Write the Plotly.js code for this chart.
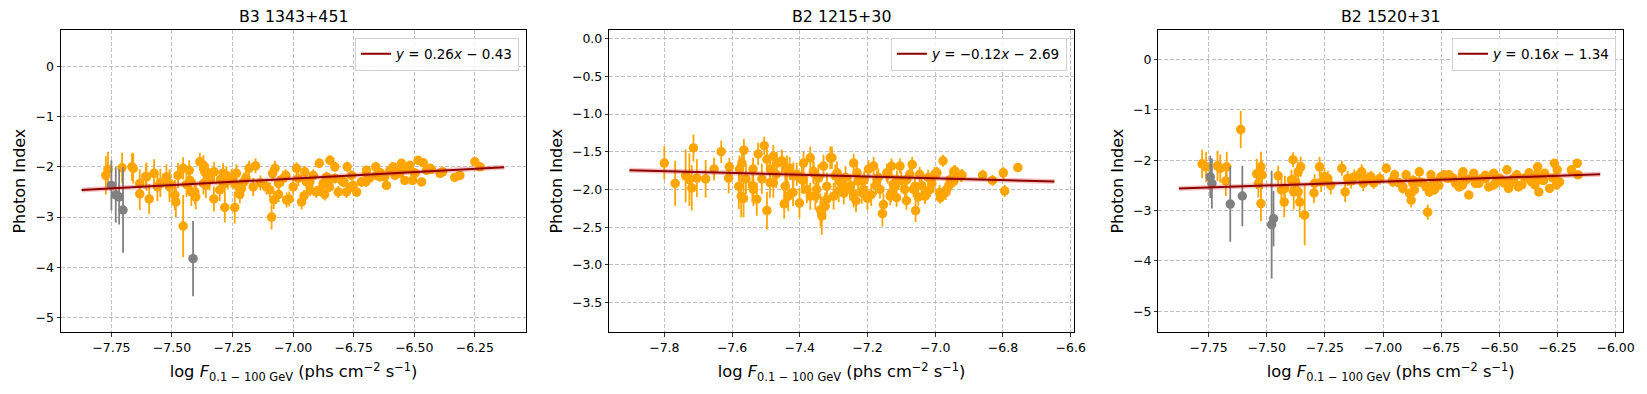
<!DOCTYPE html>
<html>
<head>
<meta charset="utf-8">
<script src="https://cdn.plot.ly/plotly-3.0.1.min.js"></script>
<style>
  html, body { margin: 0; padding: 0; background: #fff; }
  #plot { width: 1647px; height: 394px; }
</style>
</head>
<body>
<div id="plot"></div>
<script>
/* Photon index vs log flux, three sources */

var titles = ["B3 1343+451", "B2 1215+30", "B2 1520+31"];
var fitLabels = [
  "<i>y</i> = 0.26<i>x</i> \u2212 0.43",
  "<i>y</i> = \u22120.12<i>x</i> \u2212 2.69",
  "<i>y</i> = 0.16<i>x</i> \u2212 1.34"
];

/* B3 1343+451 */
var x1 = [-7.773,-7.764,-7.706,-7.665,-7.633,-7.633,-7.608,-7.594,-7.574,-7.548,-7.523,-7.510,-7.488,-7.484,-7.454,-7.454,-7.429,-7.426,-7.420,-7.402,
  -7.385,-7.370,-7.365,-7.360,-7.326,-7.327,-7.303,-7.289,-7.282,-7.275,-7.241,-7.234,-7.213,-7.203,-7.182,-7.165,-7.155,-7.110,-7.096,-7.089,
  -7.085,-7.080,-7.075,-7.041,-7.016,-6.986,-6.979,-6.965,-7.000,-6.930,-6.917,-6.892,-6.890,-6.876,-6.862,-6.848,-6.828,-6.814,-6.800,-6.780,
  -6.777,-6.759,-6.738,-6.718,-6.697,-6.686,-6.659,-6.656,-6.622,-6.615,-6.587,-6.580,-6.553,-6.539,-6.518,-6.507,-6.484,-6.470,-6.463,-6.449,
  -6.394,-6.383,-6.333,-6.312,-6.250,-6.229,-7.270,-7.195,-7.135,-7.030,-6.945,-6.850,-6.790,-6.700,-6.640,-6.560,-6.500,-6.430,-7.345,-7.440,
  -7.560,-6.905,-6.870,-6.760,-6.955,-7.060,-7.220,-7.300,
  -6.952,-6.931,-6.856,-6.828,-6.794,-6.752,-6.697,-6.642,-6.601,-6.560,-6.532,-6.497,-6.435,
  -7.475,-7.370,-7.406,-7.510,-7.282,-7.255,-7.234,-7.061,-7.027,-7.351,-7.605,-7.660];
var y1 = [-2.17,-2.05,-2.02,-2.00,-2.33,-2.54,-2.19,-2.64,-2.13,-2.32,-2.20,-2.40,-2.56,-2.70,-3.18,-2.03,-2.07,-2.27,-2.50,-2.60,
  -1.90,-1.97,-2.10,-2.37,-2.10,-2.64,-2.46,-2.13,-2.81,-2.17,-2.81,-2.13,-2.43,-2.30,-2.03,-2.40,-1.98,-2.40,-2.46,-3.00,
  -2.13,-2.66,-2.03,-2.23,-2.64,-2.03,-2.23,-2.70,-2.40,-2.46,-2.17,-1.93,-2.46,-2.33,-2.20,-1.87,-2.00,-2.50,-2.27,-2.50,
  -2.00,-2.17,-2.50,-2.30,-2.07,-2.23,-2.00,-2.17,-2.20,-2.37,-2.00,-2.17,-1.93,-2.27,-1.97,-2.27,-1.87,-2.30,-1.92,-2.07,
  -2.13,-2.10,-2.21,-2.17,-1.90,-2.00,-2.27,-2.22,-2.32,-2.17,-2.30,-2.40,-2.30,-2.30,-2.12,-2.10,-2.12,-2.05,-2.25,-2.35,
  -2.40,-2.50,-2.55,-2.40,-2.58,-2.55,-2.55,-2.25,
  -2.10,-2.30,-2.33,-2.23,-2.30,-2.37,-2.13,-2.20,-2.07,-2.13,-2.03,-2.13,-2.03,
  -2.17,-2.33,-2.50,-2.33,-2.33,-2.23,-2.37,-2.33,-2.66,-2.17,-2.20,-2.03];
var e1 = [0.38,0.35,0.30,0.28,0.28,0.32,0.25,0.30,0.28,0.28,0.25,0.30,0.30,0.30,0.62,0.22,0.20,0.25,0.28,0.25,
  0.18,0.20,0.22,0.25,0.20,0.25,0.22,0.20,0.30,0.18,0.32,0.18,0.20,0.18,0.15,0.18,0.15,0.15,0.15,0.25,
  0.15,0.18,0.15,0.15,0.15,0.12,0.15,0.15,0.15,0.12,0.12,0.10,0.12,0.12,0.10,0.10,0.10,0.12,0.10,0.12,
  0.10,0.10,0.10,0.10,0.08,0.10,0.08,0.08,0.08,0.08,0.08,0.08,0.08,0.08,0.08,0.08,0.07,0.08,0.07,0.07,
  0.07,0.07,0.07,0.07,0.06,0.06,0.18,0.15,0.15,0.12,0.12,0.10,0.10,0.10,0.08,0.08,0.08,0.07,0.22,0.25,
  0.28,0.12,0.12,0.10,0.12,0.15,0.18,0.20,
  0.12,0.12,0.10,0.10,0.10,0.10,0.08,0.08,0.08,0.08,0.08,0.07,0.07,
  0.25,0.22,0.25,0.28,0.20,0.18,0.18,0.15,0.15,0.22,0.28,0.30];
var gx1 = [-7.750,-7.732,-7.718,-7.702,-7.413];
var gy1 = [-2.37,-2.56,-2.60,-2.86,-3.83];
var ge1 = [0.50,0.55,0.55,0.85,0.75];
var fitX1 = [-7.873,-6.129];
var fitY1 = [-2.46,-2.01];

/* B2 1215+30 */
var x2 = [-7.800,-7.768,-7.737,-7.726,-7.714,-7.719,-7.704,-7.678,-7.653,-7.632,-7.608,-7.578,-7.580,-7.573,-7.566,-7.571,-7.565,-7.559,-7.538,-7.523,
  -7.512,-7.505,-7.497,-7.497,-7.487,-7.478,-7.468,-7.453,-7.443,-7.446,-7.434,-7.420,-7.409,-7.401,-7.389,-7.379,-7.369,-7.359,-7.354,-7.339,
  -7.335,-7.330,-7.320,-7.305,-7.300,-7.295,-7.285,-7.265,-7.241,-7.234,-7.231,-7.217,-7.197,-7.189,-7.168,-7.153,-7.156,-7.129,-7.124,-7.114,
  -7.104,-7.090,-7.085,-7.068,-7.060,-7.058,-7.046,-7.031,-7.021,-7.002,-6.987,-6.977,-6.969,-6.945,-6.945,-6.924,-6.860,-6.831,-6.799,-6.795,
  -6.756,-7.390,-7.345,-7.280,-7.250,-7.210,-7.175,-7.140,-7.100,-7.075,-7.040,-7.010,-6.960,-7.470,-7.430,-7.540,-7.610,-7.270,-7.200,-7.130,
  -7.050,-7.325,
  -7.537,-7.527,-7.438,-7.394,-7.369,-7.350,-7.320,-7.290,-7.271,-7.251,-7.212,-7.182,-7.163,-7.143,-7.113,-7.084,-7.064,-7.015,-6.995,-6.956,
  -6.985,-7.133,-7.241,-7.419,-7.488,-7.478,-7.453,-7.360,-7.310,-7.228,-7.172,-7.118,-7.030,-6.966,-6.941,-6.921];
var y2 = [-1.65,-1.92,-1.82,-1.87,-1.45,-1.98,-1.85,-1.86,-1.73,-1.50,-1.70,-1.73,-1.96,-2.09,-2.12,-1.65,-1.48,-1.86,-1.73,-1.53,
  -1.86,-1.42,-2.28,-1.60,-1.73,-1.91,-1.65,-1.64,-1.96,-2.19,-2.09,-2.04,-1.80,-2.18,-1.65,-2.00,-1.58,-1.78,-2.09,-2.27,
  -2.35,-1.69,-1.96,-1.58,-2.09,-1.82,-2.02,-1.84,-1.65,-2.15,-1.78,-2.04,-1.73,-2.07,-1.84,-2.20,-2.32,-1.69,-1.93,-2.11,
  -1.69,-2.00,-2.15,-1.67,-1.96,-2.28,-1.80,-2.07,-1.84,-1.80,-2.04,-1.62,-2.04,-1.76,-1.89,-1.82,-1.81,-1.88,-1.78,-2.02,
  -1.71,-1.88,-1.85,-1.90,-1.95,-1.88,-1.95,-1.80,-1.88,-1.80,-1.95,-1.92,-1.95,-1.80,-1.72,-1.95,-1.85,-2.05,-2.12,-2.05,
  -2.10,-2.22,
  -2.00,-2.13,-1.73,-1.87,-2.09,-2.00,-2.13,-1.78,-1.96,-2.00,-2.00,-1.69,-2.00,-1.78,-1.87,-1.87,-2.00,-2.00,-1.78,-1.87,
  -2.11,-2.09,-2.09,-1.82,-1.91,-1.56,-1.62,-1.76,-1.58,-1.89,-1.87,-1.96,-2.09,-2.00,-1.76,-1.81];
var e2 = [0.22,0.30,0.35,0.35,0.18,0.30,0.25,0.25,0.15,0.15,0.12,0.18,0.30,0.28,0.25,0.18,0.15,0.20,0.15,0.15,
  0.20,0.12,0.25,0.15,0.18,0.20,0.15,0.15,0.20,0.20,0.20,0.18,0.15,0.20,0.15,0.18,0.15,0.15,0.18,0.22,
  0.25,0.15,0.18,0.15,0.18,0.15,0.15,0.15,0.12,0.15,0.15,0.15,0.12,0.15,0.12,0.15,0.17,0.10,0.12,0.12,
  0.10,0.12,0.12,0.10,0.12,0.15,0.10,0.12,0.10,0.10,0.10,0.08,0.10,0.08,0.08,0.08,0.07,0.07,0.08,0.08,
  0.06,0.18,0.18,0.15,0.15,0.12,0.12,0.12,0.12,0.10,0.10,0.10,0.08,0.18,0.15,0.22,0.20,0.15,0.15,0.12,
  0.12,0.18,
  0.22,0.22,0.18,0.18,0.18,0.18,0.15,0.15,0.15,0.15,0.12,0.12,0.12,0.12,0.12,0.10,0.10,0.10,0.08,0.08,
  0.08,0.12,0.15,0.18,0.20,0.15,0.15,0.15,0.15,0.12,0.12,0.12,0.10,0.08,0.08,0.08];
var fitX2 = [-7.903,-6.648];
var fitY2 = [-1.745,-1.895];

/* B2 1520+31 */
var x3 = [-7.778,-7.761,-7.712,-7.700,-7.672,-7.676,-7.612,-7.543,-7.525,-7.520,-7.525,-7.451,-7.425,-7.422,-7.387,-7.384,-7.376,-7.365,-7.358,-7.354,
  -7.337,-7.297,-7.273,-7.266,-7.252,-7.177,-7.163,-7.137,-7.123,-7.092,-7.085,-7.052,-7.014,-6.986,-6.950,-6.915,-6.901,-6.879,-6.865,-6.844,
  -6.808,-6.808,-6.801,-6.780,-6.751,-6.723,-6.688,-6.656,-6.631,-6.610,-6.602,-6.574,-6.545,-6.524,-6.517,-6.467,-6.460,-6.425,-6.403,-6.372,
  -6.361,-6.335,-6.330,-6.305,-6.284,-6.263,-6.251,-6.241,-6.190,-6.165,-6.161,-7.225,-7.040,-6.960,-6.930,-6.870,-6.830,-6.760,-6.700,-6.660,
  -6.640,-6.590,-6.560,-6.500,-6.480,-6.440,-6.420,-6.390,-6.350,-6.310,-6.270,
  -6.957,-6.915,-6.886,-6.844,-6.815,-6.794,-6.766,-6.737,-6.702,-6.673,-6.652,-6.616,-6.588,-6.560,-6.524,-6.510,-6.474,-6.460,-6.439,-6.418,
  -6.375,-6.347,-6.340,-6.318,-6.261,-6.254,-6.716,-6.872,-6.780,-6.659,
  -7.437,-7.394,-7.365,-7.536,-7.294,-7.237,-7.152,-7.102,-7.066];
var y3 = [-2.07,-2.13,-2.11,-2.16,-2.13,-2.41,-1.39,-2.27,-2.13,-2.29,-2.86,-2.31,-2.83,-2.56,-1.99,-2.63,-2.43,-2.23,-2.83,-2.13,
  -3.09,-2.65,-2.13,-2.43,-2.33,-2.16,-2.63,-2.41,-2.33,-2.23,-2.46,-2.33,-2.36,-2.16,-2.29,-2.53,-2.29,-2.79,-2.59,-2.23,
  -2.53,-3.03,-2.63,-2.43,-2.33,-2.36,-2.46,-2.23,-2.69,-2.26,-2.46,-2.36,-2.53,-2.26,-2.46,-2.19,-2.53,-2.29,-2.49,-2.25,
  -2.43,-2.13,-2.63,-2.26,-2.56,-2.06,-2.19,-2.43,-2.19,-2.06,-2.29,-2.50,-2.45,-2.40,-2.45,-2.40,-2.45,-2.50,-2.35,-2.50,
  -2.38,-2.40,-2.30,-2.35,-2.45,-2.40,-2.50,-2.35,-2.35,-2.40,-2.35,
  -2.43,-2.56,-2.66,-2.43,-2.53,-2.29,-2.43,-2.29,-2.36,-2.53,-2.43,-2.33,-2.46,-2.36,-2.49,-2.39,-2.43,-2.56,-2.36,-2.53,
  -2.36,-2.49,-2.29,-2.39,-2.36,-2.49,-2.29,-2.46,-2.59,-2.29,
  -2.59,-2.39,-2.63,-2.46,-2.46,-2.36,-2.36,-2.29,-2.36];
var e3 = [0.28,0.30,0.30,0.28,0.30,0.30,0.37,0.30,0.30,0.28,0.35,0.20,0.30,0.25,0.15,0.35,0.25,0.20,0.30,0.20,
  0.60,0.20,0.20,0.20,0.18,0.15,0.20,0.15,0.15,0.15,0.15,0.12,0.12,0.10,0.10,0.12,0.10,0.15,0.12,0.10,
  0.10,0.15,0.10,0.10,0.08,0.08,0.08,0.08,0.08,0.07,0.08,0.07,0.07,0.07,0.07,0.06,0.07,0.06,0.06,0.06,
  0.06,0.06,0.06,0.06,0.06,0.06,0.06,0.06,0.05,0.05,0.05,0.18,0.12,0.10,0.10,0.10,0.10,0.08,0.08,0.08,
  0.07,0.07,0.07,0.06,0.07,0.06,0.06,0.06,0.06,0.06,0.06,
  0.10,0.10,0.10,0.10,0.10,0.08,0.08,0.08,0.08,0.08,0.08,0.07,0.07,0.07,0.07,0.06,0.06,0.06,0.06,0.06,
  0.06,0.06,0.06,0.06,0.05,0.05,0.08,0.10,0.08,0.08,
  0.25,0.20,0.25,0.28,0.18,0.15,0.15,0.12,0.12];
var gx3 = [-7.743,-7.736,-7.657,-7.605,-7.479,-7.471];
var gy3 = [-2.33,-2.46,-2.87,-2.71,-3.28,-3.16];
var ge3 = [0.42,0.50,0.75,0.60,1.07,0.55];
var fitX3 = [-7.878,-6.066];
var fitY3 = [-2.56,-2.28];

var font = "DejaVu Sans, Liberation Sans, sans-serif";

function points(x, y, e, color, n) {
  return {
    x: x, y: y,
    xaxis: "x" + (n == 1 ? "" : n), yaxis: "y" + (n == 1 ? "" : n),
    type: "scatter", mode: "markers",
    marker: { color: color, size: 9.5 },
    error_y: { type: "data", array: e, visible: true, color: color, thickness: 1.8, width: 0 },
    showlegend: false, hoverinfo: "x+y"
  };
}

function fit(x, y, label, n) {
  var ax = n == 1 ? "" : n;
  var band = {
    x: x, y: y, xaxis: "x" + ax, yaxis: "y" + ax,
    type: "scatter", mode: "lines",
    line: { color: "rgba(230,60,60,0.3)", width: 5 },
    showlegend: false, hoverinfo: "skip"
  };
  var line = {
    x: x, y: y, xaxis: "x" + ax, yaxis: "y" + ax,
    type: "scatter", mode: "lines", name: label,
    line: { color: "#8b0000", width: 2 },
    legend: "legend" + ax, showlegend: true
  };
  return [band, line];
}

var data = [];
data.push(points(x1, y1, e1, "#ffa500", 1), points(gx1, gy1, ge1, "#808080", 1));
data = data.concat(fit(fitX1, fitY1, fitLabels[0], 1));
data.push(points(x2, y2, e2, "#ffa500", 2));
data = data.concat(fit(fitX2, fitY2, fitLabels[1], 2));
data.push(points(x3, y3, e3, "#ffa500", 3), points(gx3, gy3, ge3, "#808080", 3));
data = data.concat(fit(fitX3, fitY3, fitLabels[2], 3));

var W = 1647, H = 394;
var doms = [[61, 526], [609.3, 1073.9], [1158.4, 1623]];
var ydom = [1 - 332 / H, 1 - 30.3 / H];

var xlabel = "log <i>F</i><sub>0.1 \u2212 100 GeV</sub> (phs cm<sup>\u22122</sup> s<sup>\u22121</sup>)";

function xaxis(d, range, dtick, fmt) {
  return {
    domain: [d[0] / W, d[1] / W], range: range, dtick: dtick, tick0: 0, tickformat: fmt,
    showline: true, mirror: true, linecolor: "black", linewidth: 1,
    ticks: "outside", ticklen: 3.5, tickwidth: 0.8, tickcolor: "black",
    showgrid: true, gridcolor: "#b0b0b0", gridwidth: 0.8, griddash: "4px,2px",
    zeroline: false, tickfont: { size: 12.5, color: "black" },
    title: { text: xlabel, font: { size: 16.3, color: "black" }, standoff: 12 }
  };
}

function yaxis(range, dtick, fmt, anchor) {
  return {
    domain: ydom, range: range, dtick: dtick, tick0: 0, tickformat: fmt, anchor: anchor,
    showline: true, mirror: true, linecolor: "black", linewidth: 1,
    ticks: "outside", ticklen: 3.5, tickwidth: 0.8, tickcolor: "black",
    showgrid: true, gridcolor: "#b0b0b0", gridwidth: 0.8, griddash: "4px,2px",
    zeroline: false, tickfont: { size: 12.5, color: "black" },
    title: { text: "Photon Index", font: { size: 16, color: "black" }, standoff: 5 }
  };
}

function legend(d) {
  return {
    x: (d[1] - 7) / W, y: 1 - 37.5 / H, xanchor: "right", yanchor: "top",
    bgcolor: "rgba(255,255,255,0.8)", bordercolor: "#d0d0d0", borderwidth: 1,
    font: { size: 13.5, color: "black" }
  };
}

var annotations = titles.map(function (t, i) {
  return {
    text: t, xref: "paper", yref: "paper",
    x: (doms[i][0] + doms[i][1]) / 2 / W, y: 1 - 16 / H,
    xanchor: "center", yanchor: "middle", showarrow: false,
    font: { size: 15.8, color: "black" }
  };
});

var layout = {
  width: W, height: H,
  margin: { l: 0, r: 0, t: 0, b: 0 },
  paper_bgcolor: "white", plot_bgcolor: "white",
  font: { family: font, color: "black" },
  xaxis: xaxis(doms[0], [-7.958, -6.039], 0.25, ".2f"),
  yaxis: yaxis([-5.29, 0.72], 1, "d", "x"),
  xaxis2: xaxis(doms[1], [-7.9625, -6.5905], 0.2, ".1f"),
  yaxis2: yaxis([-3.89, 0.11], 0.5, ".1f", "x2"),
  xaxis3: xaxis(doms[2], [-7.966, -5.968], 0.25, ".2f"),
  yaxis3: yaxis([-5.41, 0.58], 1, "d", "x3"),
  legend: legend(doms[0]),
  legend2: legend(doms[1]),
  legend3: legend(doms[2]),
  annotations: annotations
};
layout.xaxis.anchor = "y";
layout.xaxis2.anchor = "y2";
layout.xaxis3.anchor = "y3";

Plotly.newPlot("plot", data, layout, { displayModeBar: false, staticPlot: true });
</script>
</body>
</html>
